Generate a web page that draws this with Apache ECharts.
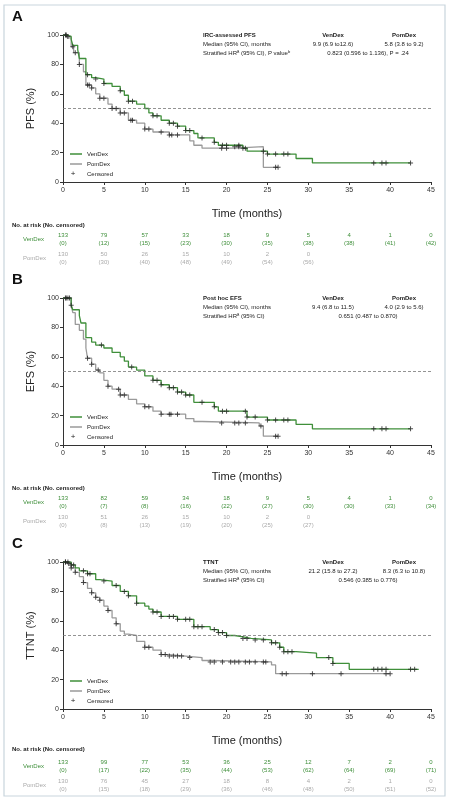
<!DOCTYPE html><html><head><meta charset="utf-8">
<script src="https://cdn.jsdelivr.net/npm/echarts@6/dist/echarts.min.js"></script>
<style>body{margin:0;background:#fff}#c{width:467px;height:800px}</style></head><body><div id="c"></div>
<script>
const xTicks=[0,5,10,15,20,25,30,35,40,45];
const panelLetters=['A','B','C'];
const yNames=['PFS (%)','EFS (%)','TTNT (%)'];
// step curves [time, percent]
const venA=[[0,100],[0.5,99],[1,97],[1.2,93],[1.8,90],[2,84],[2.8,73],[3.5,71],[4,70],[5,67],[6,65],[7,62],[7.5,59],[8,55],[9,53],[10,50],[10.5,47],[11,45],[12,42],[13,40],[14,38],[15,35],[16,33],[16.5,30],[18.5,27],[19,25],[22,23],[22.5,21],[25,19],[28.5,16],[30.5,13],[42.5,13]];
const pomA=[[0,100],[0.5,98],[1,92],[1.3,88],[2,80],[2.5,75],[2.8,66],[3.5,64],[4,60],[4.5,57],[5.5,53],[6,50],[7,47],[8,42],[9,40],[10,36],[11,34],[13,32],[15.5,28],[16,25],[17,23],[21,24],[24.5,10],[26.3,10]];
const venB=[[0,100],[1,95],[1.2,92],[2,88],[2.2,83],[2.8,73],[3.5,70],[4,68],[5,66],[6,63],[7,60],[7.5,57],[8,53],[9,51],[10,47],[11,44],[12,41],[13,39],[14,36],[15,34],[16,29],[18.5,26],[19,23],[22.5,19],[25,17],[28.5,14],[30.5,11],[42.5,11]];
const pomB=[[0,100],[1,95],[1.2,90],[1.5,82],[2,78],[2.5,72],[2.8,66],[3,59],[3.5,55],[4,51],[4.5,49],[5,44],[5.5,40],[6,38],[7,34],[8,31],[9,28],[10,26],[11,23],[12,21],[15,18],[16,16],[17,15],[24,13],[24.5,6],[26.3,6]];
const venC=[[0,100],[1,98],[1.5,96],[2,94],[3,92],[4,88],[4.5,87],[6,84],[7,80],[8,77],[9,72],[10,70],[10.5,68],[11,66],[12,63],[14,61],[16,56],[18,54],[19,52],[20,50],[21,49],[22,48],[23,47],[25.5,45],[26.5,42],[27,39],[28.5,38],[31,35],[33,31],[35,27],[43.5,27]];
const pomC=[[0,100],[0.5,99],[1,96],[1.5,93],[2,90],[2.5,86],[3,82],[3.5,79],[4,76],[4.5,74],[5,70],[5.5,67],[6,62],[6.5,58],[7,53],[7.5,51],[8,50],[9,46],[10,42],[11,40],[12,37],[13,36],[15,35],[17,33],[18,32],[25.5,30],[26,24],[40,24]];
// censor times
const cenVenA=[0.3,0.6,3,4,5,7,8,8.5,11,11.5,13,13.5,14,15,15.5,17,18.5,19.5,20,21.5,22,22.3,24.5,25,26,27,27.5,38,39,39.5,42.5];
const cenPomA=[0.4,1.2,1.5,2,3,3.2,3.5,4.5,5,6,6.5,7,7.5,8.3,8.5,10,10.5,12,13,13.3,14,19.4,20,21,21.5,26,26.3];
const cenVenB=[0.3,0.6,1,4.7,8.4,11,11.5,12,13,13.5,14,14.5,15,15.5,17,18.5,19.5,20,22.3,22.5,23.5,25,26,27,27.5,38,39,39.5,42.5];
const cenPomB=[0.4,0.8,3,3.5,4.3,5.5,6.8,7,7.5,10,10.5,12,13,13.2,14,19.4,21,21.5,22.3,24.2,26,26.3];
const cenVenC=[0.3,0.6,1,1.3,2.5,3,3.3,5,6.5,7.5,8,9,11,11.5,12,13,13.5,14,15,15.5,16,16.5,17,18.5,19,19.5,20,22,22.5,23.5,24.5,25.5,26,26.5,27,27.5,28,32.5,33,38,38.5,39,39.5,42.5,43];
const cenPomC=[0.3,0.7,1,1.5,2.5,3.5,4,4.5,5.5,6.5,10,10.5,12,12.5,13,13.5,14,14.5,15.5,18,18.5,19.5,20.5,21,21.5,22.3,22.8,23.5,24.5,24.8,26.8,27.3,30.5,34,39.5,40];
const riskVen=[[133,79,57,33,18,9,5,4,1,0],[133,82,59,34,18,9,5,4,1,0],[133,99,77,53,36,25,12,7,2,0]];
const cenVen=[[0,12,15,23,30,35,38,38,41,42],[0,7,8,16,22,27,30,30,33,34],[0,17,22,35,44,53,62,64,69,71]];
const riskPom=[[130,50,26,15,10,2,0],[130,51,26,15,10,2,0],[130,76,45,27,18,8,4,2,1,0]];
const cenPom=[[0,30,40,48,49,54,56],[0,8,13,19,20,25,27],[0,15,18,29,36,46,48,50,51,52]];
const statTitles=['IRC-assessed PFS','Post hoc EFS','TTNT'];
const statRow1=[['9.9 (6.9 to12.6)','5.8 (3.8 to 9.2)'],['9.4 (6.8 to 11.5)','4.0 (2.9 to 5.6)'],['21.2 (15.8 to 27.2)','8.3 (6.3 to 10.8)']];
const statRow2Label=['Stratified HRª (95% CI), P valueᵇ','Stratified HRª (95% CI)','Stratified HRª (95% CI)'];
const statRow2=['0.823 (0.596 to 1.136), P = .24','0.651 (0.487 to 0.870)','0.546 (0.385 to 0.776)'];

const curves=[[venA,pomA],[venB,pomB],[venC,pomC]];
const cens=[[cenVenA,cenPomA],[cenVenB,cenPomB],[cenVenC,cenPomC]];
const tops=[35,298,562], H=147, L=63, R=431;
const G='#3f8f3a', P='#9a9a9a';
function valAt(c,t){let v=c[0][1];for(const p of c){if(p[0]<=t)v=p[1];}return v;}
const plus='path://M4,0H6V4H10V6H6V10H4V6H0V4H4Z';
const grids=[],xA=[],yA=[],series=[];
for(let i=0;i<3;i++){
  grids.push({left:L,right:467-R,top:tops[i],height:H});
  xA.push({gridIndex:i,type:'value',min:0,max:45,interval:5,name:'Time (months)',nameLocation:'middle',nameGap:26,
    nameTextStyle:{fontSize:11,color:'#222',fontFamily:'Liberation Sans Narrow, Liberation Sans'},
    axisLine:{lineStyle:{color:'#333'}},axisTick:{length:3,lineStyle:{color:'#333'}},splitLine:{show:false},
    axisLabel:{fontSize:7,color:'#333',margin:5}});
  yA.push({gridIndex:i,type:'value',min:0,max:100,interval:20,name:yNames[i],nameLocation:'middle',nameGap:22,
    nameTextStyle:{fontSize:11,color:'#222',fontFamily:'Liberation Sans Narrow, Liberation Sans'},
    axisLine:{show:true,lineStyle:{color:'#333'}},axisTick:{show:true,length:3},splitLine:{show:false},
    axisLabel:{fontSize:7,color:'#333',margin:4}});
  const cols=[G,P];
  for(let k=1;k>=0;k--){
    series.push({type:'line',xAxisIndex:i,yAxisIndex:i,step:'end',data:curves[i][k],symbol:'none',lineStyle:{color:cols[k],width:1.3},z:k?2:3,animation:false,
      markLine:k===0?{silent:true,symbol:'none',label:{show:false},lineStyle:{type:[3,2],color:'#777',width:0.8},data:[{yAxis:50}]}:undefined});
    series.push({type:'scatter',xAxisIndex:i,yAxisIndex:i,data:cens[i][k].map(t=>[t,valAt(curves[i][k],t)]),symbol:plus,symbolSize:5,itemStyle:{color:'#222'},z:5,animation:false});
  }
}
const chart=echarts.init(document.getElementById('c'));
chart.setOption({animation:false,grid:grids,xAxis:xA,yAxis:yA,series});
const gr=[{type:'rect',shape:{x:4,y:5,width:441,height:791},style:{fill:'none',stroke:'#c9d5dd',lineWidth:1.2}}];
const T=(x,y,s,o={})=>gr.push({type:'text',x,y,style:Object.assign({text:s,fontSize:6,fill:'#222',fontFamily:'Liberation Sans',textVerticalAlign:'middle'},o)});
for(let i=0;i<3;i++){
  const t=tops[i];
  T(12,t-18,panelLetters[i],{fontSize:15,fontWeight:'bold',fill:'#111'});
  T(203,t,statTitles[i],{fontWeight:'bold'});
  T(333,t,'VenDex',{fontWeight:'bold',textAlign:'center'});
  T(404,t,'PomDex',{fontWeight:'bold',textAlign:'center'});
  T(203,t+9,'Median (95% CI), months');
  T(333,t+9,statRow1[i][0],{textAlign:'center'});
  T(404,t+9,statRow1[i][1],{textAlign:'center'});
  T(203,t+18,statRow2Label[i]);
  T(368,t+18,statRow2[i],{textAlign:'center'});
  [[G,'VenDex'],[P,'PomDex']].forEach((d,j)=>{
    const y=t+119+j*10;
    gr.push({type:'line',shape:{x1:70,y1:y,x2:82,y2:y},style:{stroke:d[0],lineWidth:1.5}});
    T(87,y,d[1]);
  });
  T(73,t+139,'+',{fontSize:8,textAlign:'center'}); T(87,t+139,'Censored');
  const ry=t+H+43;
  T(12,ry+(i===2?-3:0),'No. at risk (No. censored)',{fontWeight:'bold'});
  T(23,ry+14,'VenDex',{fill:G});
  T(23,ry+33,'PomDex',{fill:'#aaa'});
  xTicks.forEach((tk,j)=>{
    const x=chart.convertToPixel({xAxisIndex:i},tk);
    if(riskVen[i][j]!==undefined){T(x,ry+10,String(riskVen[i][j]),{fill:G,textAlign:'center'});T(x,ry+18,'('+cenVen[i][j]+')',{fill:G,textAlign:'center'});}
    if(riskPom[i][j]!==undefined){T(x,ry+29,String(riskPom[i][j]),{fill:'#aaa',textAlign:'center'});T(x,ry+37,'('+cenPom[i][j]+')',{fill:'#aaa',textAlign:'center'});}
  });
}
chart.setOption({graphic:gr});
</script></body></html>
